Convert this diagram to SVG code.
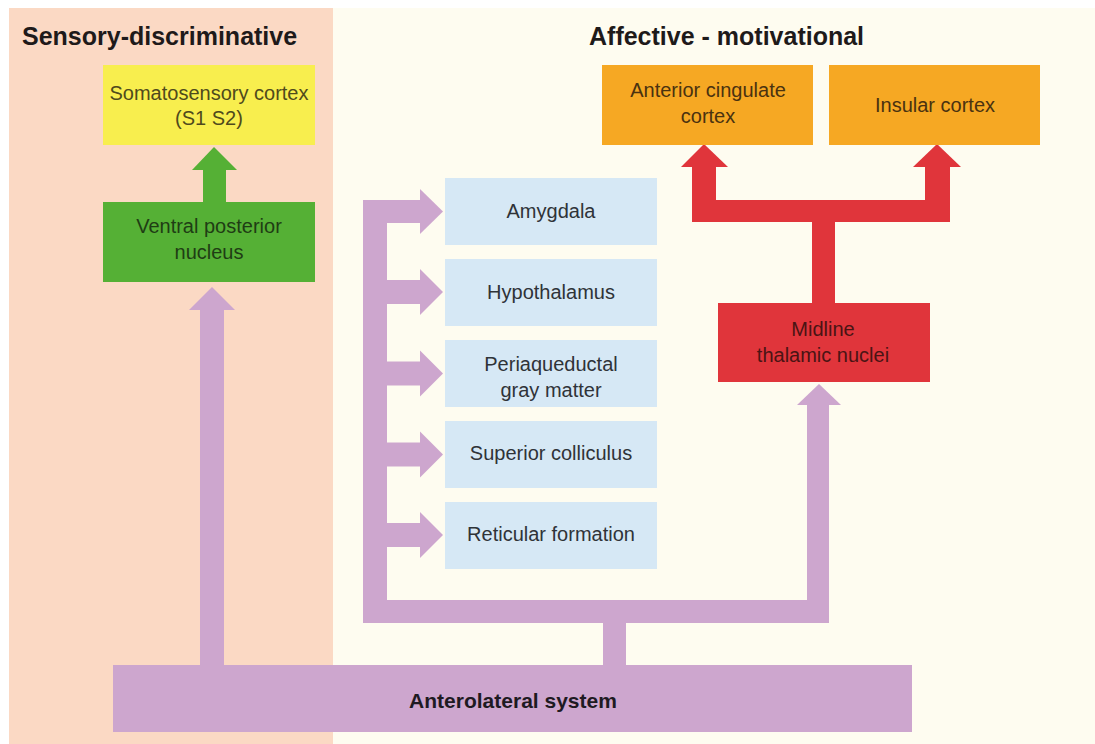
<svg xmlns="http://www.w3.org/2000/svg" width="1095" height="744" viewBox="0 0 1095 744">
<style>
  text { font-family: "Liberation Sans", Arial, sans-serif; text-anchor: middle; }
  .title { font-size: 25px; font-weight: bold; fill: #1e1a1a; text-anchor: start; }
  .lbl { font-size: 20px; }
  .blue { fill: #D6E8F5; }
  .bt { fill: #2f3338; }
  .purple { fill: #CDA6CE; }
  .red { fill: #E0353B; }
  .green { fill: #55B035; }
</style>
<rect x="0" y="0" width="1095" height="744" fill="#ffffff"/>
<rect x="9" y="8" width="324" height="736" fill="#FBD9C4"/>
<rect x="333" y="8" width="762" height="736" fill="#FEFCF0"/>
<text class="title" x="22" y="45">Sensory-discriminative</text>
<text class="title" x="589" y="45">Affective - motivational</text>

<g id="connectors">
  <rect class="green" x="203" y="168" width="23" height="36"/>
  <polygon class="green" points="192,170 214,147 237,170"/>
  <rect class="red" x="812" y="200" width="23" height="104"/>
  <rect class="red" x="692" y="200" width="258" height="22"/>
  <rect class="red" x="692" y="165" width="24" height="57"/>
  <polygon class="red" points="681,167 704,144 728,167"/>
  <rect class="red" x="925" y="165" width="25" height="57"/>
  <polygon class="red" points="913,167 937,144 961,167"/>
  <rect class="purple" x="200" y="308" width="24" height="359"/>
  <polygon class="purple" points="189,310 212,287 235,310"/>
  <rect class="purple" x="603" y="621" width="23" height="46"/>
  <rect class="purple" x="363" y="600" width="466" height="23"/>
  <rect class="purple" x="363" y="200" width="24" height="423"/>
  <rect class="purple" x="807" y="403" width="22" height="220"/>
  <polygon class="purple" points="797,405 819,384 841,405"/>
  <rect class="purple" x="363" y="200" width="59" height="23"/>
  <polygon class="purple" points="420,189 443,211.5 420,234"/>
  <rect class="purple" x="380" y="280" width="42" height="24"/>
  <polygon class="purple" points="420,269 443,292 420,315"/>
  <rect class="purple" x="380" y="361.5" width="42" height="24"/>
  <polygon class="purple" points="420,350.5 443,373.5 420,396.5"/>
  <rect class="purple" x="380" y="442.5" width="42" height="24"/>
  <polygon class="purple" points="420,431.5 443,454.5 420,477.5"/>
  <rect class="purple" x="380" y="523" width="42" height="24"/>
  <polygon class="purple" points="420,512 443,535 420,558"/>
</g>

<g id="somatosensory">
  <rect x="103" y="65" width="212" height="80" fill="#F8EE4E"/>
  <text class="lbl" x="209" y="100" fill="#4f4a1c">Somatosensory cortex</text>
  <text class="lbl" x="209" y="125" fill="#4f4a1c">(S1 S2)</text>
</g>
<g id="ventral-posterior">
  <rect x="103" y="202" width="212" height="80" fill="#55B035"/>
  <text class="lbl" x="209" y="233" fill="#1f3d14">Ventral posterior</text>
  <text class="lbl" x="209" y="259" fill="#1f3d14">nucleus</text>
</g>
<g id="anterior-cingulate">
  <rect x="602" y="65" width="211" height="80" fill="#F6A823"/>
  <text class="lbl" x="708" y="97" fill="#4a3210">Anterior cingulate</text>
  <text class="lbl" x="708" y="123" fill="#4a3210">cortex</text>
</g>
<g id="insular">
  <rect x="829" y="65" width="211" height="80" fill="#F6A823"/>
  <text class="lbl" x="935" y="112" fill="#4a3210">Insular cortex</text>
</g>
<g id="midline">
  <rect x="718" y="303" width="212" height="79" fill="#E0353B"/>
  <text class="lbl" x="823" y="336" fill="#4a1414">Midline</text>
  <text class="lbl" x="823" y="362" fill="#4a1414">thalamic nuclei</text>
</g>
<g id="amygdala">
  <rect class="blue" x="445" y="178" width="212" height="67"/>
  <text class="lbl bt" x="551" y="218">Amygdala</text>
</g>
<g id="hypothalamus">
  <rect class="blue" x="445" y="259" width="212" height="67"/>
  <text class="lbl bt" x="551" y="299">Hypothalamus</text>
</g>
<g id="periaqueductal">
  <rect class="blue" x="445" y="340" width="212" height="67"/>
  <text class="lbl bt" x="551" y="371">Periaqueductal</text>
  <text class="lbl bt" x="551" y="397">gray matter</text>
</g>
<g id="superior-colliculus">
  <rect class="blue" x="445" y="421" width="212" height="67"/>
  <text class="lbl bt" x="551" y="460">Superior colliculus</text>
</g>
<g id="reticular">
  <rect class="blue" x="445" y="502" width="212" height="67"/>
  <text class="lbl bt" x="551" y="541">Reticular formation</text>
</g>
<g id="anterolateral">
  <rect class="purple" x="113" y="665" width="799" height="67"/>
  <text x="513" y="708" font-size="21" font-weight="bold" fill="#1e1a22">Anterolateral system</text>
</g>
</svg>
